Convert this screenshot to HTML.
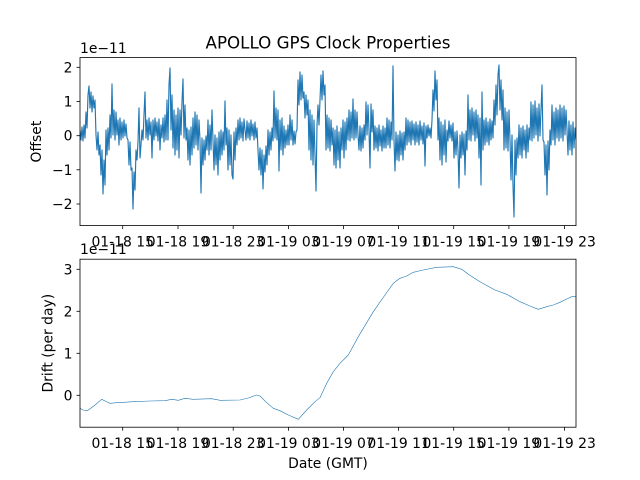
<!DOCTYPE html>
<html><head><meta charset="utf-8"><style>
html,body{margin:0;padding:0;background:#fff;}
svg{display:block;font-family:"DejaVu Sans","Liberation Sans",sans-serif;}
</style></head><body>
<svg width="640" height="480" viewBox="0 0 640 480" xmlns="http://www.w3.org/2000/svg">
<defs>
<clipPath id="c1"><rect x="80" y="57.6" width="496" height="168"/></clipPath>
<clipPath id="c2"><rect x="80" y="259.2" width="496" height="168"/></clipPath>
</defs>
<rect width="640" height="480" fill="#fff"/>
<text x="328" y="48.5" font-size="16.7" text-anchor="middle" fill="#000">APOLLO GPS Clock Properties</text>

<!-- top series -->
<g clip-path="url(#c1)">
<polyline fill="none" stroke="#1f77b4" stroke-width="1.15" stroke-linejoin="round" points="80,130 81,140 82,127 83,141 84,125 85,138 86,112 87,128 88,95 89,86 90,108 91,92 92,112 93,96 94,108 95,100 96,135 97,150 98,132 99,155 100,145 101,175 102,150 103,194 104,160 105,185 106,130 107,155 108,128 109,150 110,115 111,138 112,84 113,135 114,110 115,140 116,112 117,135 118,120 119,145 120,118 121,140 122,122 123,138 124,120 125,136 126,124 127,138 128,140 129,165 130,142 131,170 132,168 133,209 134,172 135,190 136,150 137,160 138,142 139,108 140,158 141,145 142,130 143,140 144,115 145,92 146,138 147,120 148,140 149,118 150,135 151,122 152,158 153,120 154,140 155,118 156,136 157,122 158,141 159,119 160,150 161,125 162,138 163,118 164,142 165,115 166,140 167,100 168,140 169,85 170,68 171,130 172,95 173,148 174,110 175,155 176,115 177,150 178,108 179,158 180,110 181,135 182,102 183,79 184,138 185,105 186,140 187,128 188,160 189,130 190,165 191,127 192,155 193,118 194,148 195,112 196,145 197,115 198,150 199,120 200,140 201,193 202,138 203,165 204,140 205,160 206,136 207,150 208,120 209,155 210,125 211,150 212,110 213,140 214,170 215,135 216,165 217,138 218,175 219,132 220,160 221,130 222,155 223,132 224,150 225,101 226,145 227,128 228,170 229,130 230,165 231,135 232,175 233,179 234,132 235,160 236,128 237,145 238,120 239,140 240,118 241,138 242,122 243,141 244,119 245,130 246,140 247,121 248,138 249,123 250,140 251,120 252,136 253,124 254,140 255,122 256,138 257,128 258,150 259,170 260,148 261,175 262,150 263,189 264,155 265,172 266,146 267,165 268,130 269,155 270,132 271,150 272,128 273,141 274,91 275,138 276,108 277,140 278,110 279,171 280,120 281,150 282,118 283,155 284,126 285,148 286,130 287,145 288,125 289,145 290,115 291,140 292,120 293,145 294,131 295,144 296,132 297,130 298,80 299,105 300,72 301,100 302,75 303,98 304,92 305,118 306,95 307,115 308,100 309,150 310,110 311,160 312,115 313,165 314,120 315,155 316,191 317,125 318,105 319,125 320,100 321,75 322,100 323,71 324,95 325,85 326,150 327,115 328,148 329,118 330,151 331,120 332,145 333,128 334,165 335,130 336,168 337,126 338,160 339,132 340,168 341,128 342,150 343,120 344,158 345,122 346,150 347,118 348,140 349,110 350,141 351,112 352,138 353,99 354,140 355,110 356,138 357,112 358,135 359,150 360,126 361,151 362,128 363,148 364,125 365,140 366,102 367,135 368,105 369,130 370,168 371,104 372,132 373,110 374,150 375,126 376,148 377,128 378,151 379,125 380,146 381,130 382,151 383,126 384,148 385,128 386,148 387,118 388,145 389,120 390,148 391,122 392,140 393,66 394,140 395,171 396,132 397,160 398,135 399,161 400,131 401,155 402,133 403,160 404,132 405,150 406,118 407,145 408,120 409,142 410,122 411,145 412,121 413,140 414,124 415,145 416,122 417,142 418,125 419,145 420,121 421,140 422,126 423,144 424,123 425,166 426,126 427,138 428,125 429,136 430,128 431,138 432,120 433,90 434,111 435,71 436,100 437,80 438,140 439,118 440,160 441,122 442,165 443,125 444,155 445,120 446,162 447,130 448,141 449,121 450,138 451,125 452,141 453,123 454,158 455,132 456,155 457,131 458,150 459,188 460,135 461,158 462,132 463,155 464,134 465,175 466,131 467,150 468,95 469,140 470,110 471,141 472,108 473,135 474,112 475,141 476,110 477,138 478,115 479,158 480,118 481,185 482,92 483,150 484,120 485,145 486,118 487,142 488,122 489,145 490,119 491,140 492,121 493,138 494,100 495,125 496,85 497,115 498,75 499,65 500,110 501,80 502,120 503,90 504,150 505,108 506,148 507,112 508,151 509,110 510,140 511,180 512,135 513,185 514,217 515,140 516,175 517,138 518,158 519,125 520,155 521,128 522,158 523,126 524,150 525,130 526,158 527,125 528,152 529,128 530,140 531,102 532,141 533,105 534,138 535,101 536,135 537,108 538,141 539,104 540,136 541,110 542,85 543,140 544,142 545,175 546,145 547,195 548,141 549,170 550,130 551,145 552,105 553,140 554,112 555,145 556,108 557,138 558,110 559,141 560,105 561,138 562,108 563,141 564,106 565,135 566,110 567,130 568,155 569,121 570,150 571,125 572,155 573,122 574,148 575,128 576,140"/>
</g>
<rect x="80" y="57.6" width="496" height="168" fill="none" stroke="#000" stroke-width="0.8"/>

<!-- top y ticks -->
<g stroke="#000" stroke-width="0.8">
<line x1="76.5" y1="67.3" x2="80" y2="67.3"/>
<line x1="76.5" y1="101.5" x2="80" y2="101.5"/>
<line x1="76.5" y1="135.7" x2="80" y2="135.7"/>
<line x1="76.5" y1="169.8" x2="80" y2="169.8"/>
<line x1="76.5" y1="204" x2="80" y2="204"/>
</g>
<g font-size="13.9" text-anchor="end" fill="#000">
<text x="72.5" y="72.3">2</text>
<text x="72.5" y="106.5">1</text>
<text x="72.5" y="140.7">0</text>
<text x="72.5" y="174.8">−1</text>
<text x="72.5" y="209">−2</text>
</g>
<text x="80" y="53" font-size="13.9" fill="#000">1e−11</text>
<text transform="translate(41,141.6) rotate(-90)" font-size="13.9" text-anchor="middle" fill="#000">Offset</text>

<!-- top x ticks -->
<g stroke="#000" stroke-width="0.8">
<line x1="122.7" y1="225.6" x2="122.7" y2="229.1"/>
<line x1="178" y1="225.6" x2="178" y2="229.1"/>
<line x1="233.2" y1="225.6" x2="233.2" y2="229.1"/>
<line x1="288.4" y1="225.6" x2="288.4" y2="229.1"/>
<line x1="343.5" y1="225.6" x2="343.5" y2="229.1"/>
<line x1="398.6" y1="225.6" x2="398.6" y2="229.1"/>
<line x1="453.7" y1="225.6" x2="453.7" y2="229.1"/>
<line x1="508.9" y1="225.6" x2="508.9" y2="229.1"/>
<line x1="564.6" y1="225.6" x2="564.6" y2="229.1"/>
</g>
<g font-size="13.9" text-anchor="middle" fill="#000">
<text x="122.7" y="246.5">01-18 15</text>
<text x="178" y="246.5">01-18 19</text>
<text x="233.2" y="246.5">01-18 23</text>
<text x="288.4" y="246.5">01-19 03</text>
<text x="343.5" y="246.5">01-19 07</text>
<text x="398.6" y="246.5">01-19 11</text>
<text x="453.7" y="246.5">01-19 15</text>
<text x="508.9" y="246.5">01-19 19</text>
<text x="564.6" y="246.5">01-19 23</text>
</g>

<!-- bottom series -->
<g clip-path="url(#c2)">
<polyline fill="none" stroke="#1f77b4" stroke-width="0.6" stroke-linejoin="round" points="80,408.3 83,410 87.3,410.7 91,408 95,405 101.7,399.3 106,401.5 110,403.3 116.7,402.7 133.3,401.7 150,401 165,400.7 171.7,399.3 178.3,400.3 185,398.3 193.3,399.3 211.7,398.7 220,400.3 240,400 248.3,398 256.7,395 260,396 266.7,402.7 273.3,408.3 280,410.7 288.3,415 298.3,419.3 306.7,410 315,401.7 320,397.7 326.7,383.3 333.3,371.7 340,363.3 348.3,355 358.3,336.7 373.3,311.7 385,295 393.3,283.3 400,278.3 406.7,276 413.3,272.3 423.3,270 436.7,267.3 453.3,266.7 461.7,269.3 468.3,274.3 480,281.7 495,290 506.7,294.3 520,301.7 530,306 538.3,309.3 546.7,306.7 553.3,305 560,302.3 566.7,299 571.7,296.7 576,296.7"/>
</g>
<rect x="80" y="259.2" width="496" height="168" fill="none" stroke="#000" stroke-width="0.8"/>

<!-- bottom y ticks -->
<g stroke="#000" stroke-width="0.8">
<line x1="76.5" y1="269.3" x2="80" y2="269.3"/>
<line x1="76.5" y1="311.3" x2="80" y2="311.3"/>
<line x1="76.5" y1="353.3" x2="80" y2="353.3"/>
<line x1="76.5" y1="395.3" x2="80" y2="395.3"/>
</g>
<g font-size="13.9" text-anchor="end" fill="#000">
<text x="72.5" y="274.3">3</text>
<text x="72.5" y="316.3">2</text>
<text x="72.5" y="358.3">1</text>
<text x="72.5" y="400.3">0</text>
</g>
<text x="80" y="254" font-size="13.9" fill="#000">1e−11</text>
<text transform="translate(52.5,343.2) rotate(-90)" font-size="13.9" text-anchor="middle" fill="#000">Drift (per day)</text>

<!-- bottom x ticks -->
<g stroke="#000" stroke-width="0.8">
<line x1="122.7" y1="427.2" x2="122.7" y2="430.7"/>
<line x1="178" y1="427.2" x2="178" y2="430.7"/>
<line x1="233.2" y1="427.2" x2="233.2" y2="430.7"/>
<line x1="288.4" y1="427.2" x2="288.4" y2="430.7"/>
<line x1="343.5" y1="427.2" x2="343.5" y2="430.7"/>
<line x1="398.6" y1="427.2" x2="398.6" y2="430.7"/>
<line x1="453.7" y1="427.2" x2="453.7" y2="430.7"/>
<line x1="508.9" y1="427.2" x2="508.9" y2="430.7"/>
<line x1="564.6" y1="427.2" x2="564.6" y2="430.7"/>
</g>
<g font-size="13.9" text-anchor="middle" fill="#000">
<text x="122.7" y="448">01-18 15</text>
<text x="178" y="448">01-18 19</text>
<text x="233.2" y="448">01-18 23</text>
<text x="288.4" y="448">01-19 03</text>
<text x="343.5" y="448">01-19 07</text>
<text x="398.6" y="448">01-19 11</text>
<text x="453.7" y="448">01-19 15</text>
<text x="508.9" y="448">01-19 19</text>
<text x="564.6" y="448">01-19 23</text>
</g>
<text x="328" y="468" font-size="13.9" text-anchor="middle" fill="#000">Date (GMT)</text>
</svg>
</body></html>
